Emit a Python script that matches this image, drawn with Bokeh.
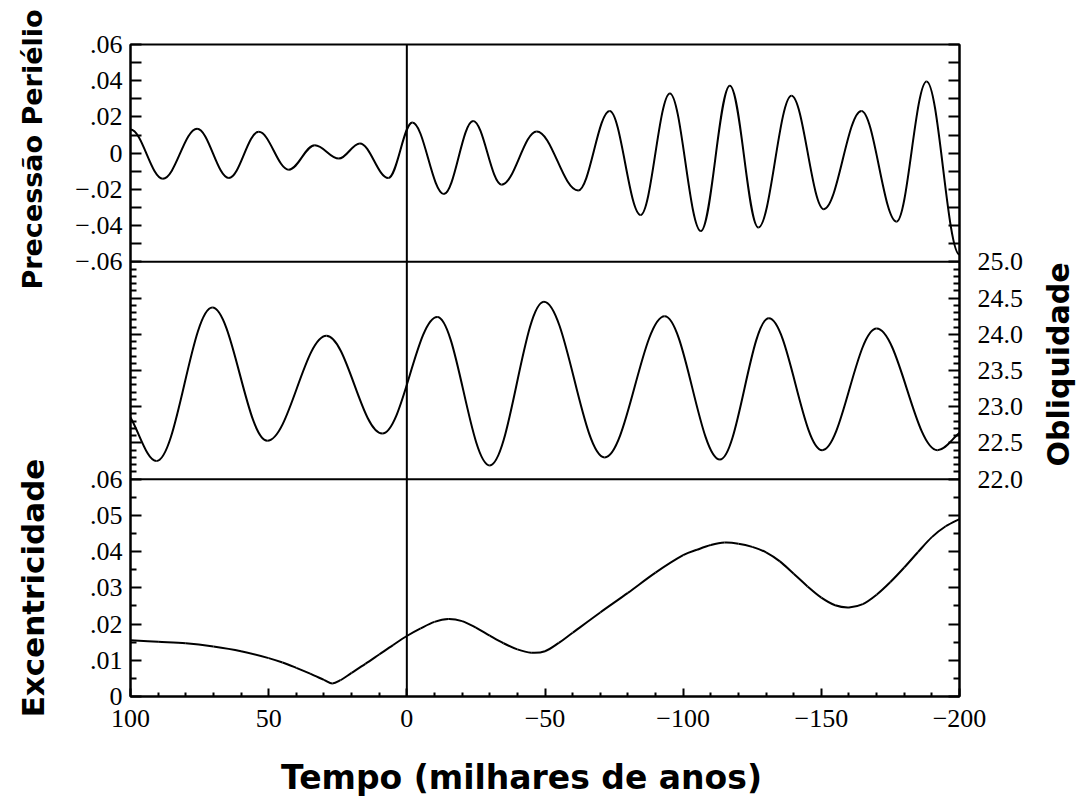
import math
from bokeh.plotting import figure
from bokeh.layouts import row, column
from bokeh.models import Range1d, LinearAxis, FixedTicker, CustomJSTickFormatter, Span
from bokeh.core.properties import value
from bokeh.embed import file_html
from bokeh.resources import INLINE

# ---------------- data ----------------
# time in thousands of years; precession: successive peaks/troughs (ends at the plot edges)
prec_x = [100, 88.3, 75.9, 64.4, 53.6, 42.7, 33.3, 24.6, 17.0, 6.7, -2.0, -13.4, -24.0, -34.3,
          -47.0, -62.0, -73.4, -84.6, -95.2, -106.4, -116.9, -127.2, -139.2, -150.9, -164.5,
          -177.2, -188.1, -200]
prec_y = [0.0130, -0.0141, 0.0135, -0.0137, 0.0118, -0.0091, 0.0044, -0.0030, 0.0054, -0.0137,
          0.0169, -0.0226, 0.0178, -0.0174, 0.0120, -0.0206, 0.0233, -0.0341, 0.0330, -0.0430,
          0.0372, -0.0411, 0.0317, -0.0309, 0.0233, -0.0378, 0.0396, -0.0560]

# obliquity (degrees): value at the left edge, peaks/troughs, value at the right edge
obl_x = [100, 90.6, 70.4, 50.5, 29.1, 8.9, -11.0, -30.0, -49.6, -71.6, -93.3, -113.3, -131.0,
         -150.3, -170.0, -192.0, -200]
obl_y = [22.85, 22.25, 24.37, 22.53, 23.98, 22.63, 24.24, 22.19, 24.45, 22.30, 24.25, 22.27,
         24.22, 22.40, 24.08, 22.40, 22.64]

# eccentricity
exc_x = [100, 90, 80, 70, 60, 50, 45, 40, 35, 30, 27, 24, 20, 15, 10, 5, 0, -5, -10, -15, -20, -25,
         -30, -35, -40, -45, -50, -55, -60, -70, -80, -90, -100, -105, -110, -115, -120, -125, -130,
         -135, -140, -145, -150, -155, -160, -165, -170, -175, -180, -185, -190, -195, -200]
exc_y = [0.0155, 0.0151, 0.0147, 0.0138, 0.0125, 0.0106, 0.0094, 0.0079, 0.0063, 0.0046, 0.0036,
         0.0045, 0.0065, 0.0090, 0.0116, 0.0142, 0.0167, 0.0188, 0.0206, 0.0214, 0.0208, 0.0190,
         0.0168, 0.0147, 0.0130, 0.0121, 0.0125, 0.0148, 0.0176, 0.0232, 0.0286, 0.0342, 0.0390,
         0.0405, 0.0418, 0.0425, 0.0422, 0.0413, 0.0398, 0.0373, 0.0339, 0.0304, 0.0273, 0.0252,
         0.0246, 0.0255, 0.0281, 0.0316, 0.0356, 0.0399, 0.0440, 0.0470, 0.0490]

# axis ticks and labels
x_ticks = [100, 50, 0, -50, -100, -150, -200]
x_labels = ["100", "50", "0", "\u221250", "\u2212100", "\u2212150", "\u2212200"]
x_minor = [90, 80, 70, 60, 40, 30, 20, 10, -10, -20, -30, -40, -60, -70, -80, -90, -110, -120,
           -130, -140, -160, -170, -180, -190]

prec_ticks = [-0.06, -0.05, -0.04, -0.03, -0.02, -0.01, 0.0, 0.01, 0.02, 0.03, 0.04, 0.05, 0.06]
prec_labels = ["\u2212.06", "", "\u2212.04", "", "\u2212.02", "", "0", "", ".02", "", ".04", "", ".06"]

obl_ticks = [22.0, 22.5, 23.0, 23.5, 24.0, 24.5, 25.0]
obl_labels = ["22.0", "22.5", "23.0", "23.5", "24.0", "24.5", "25.0"]
obl_minor = [22.1, 22.2, 22.3, 22.4, 22.6, 22.7, 22.8, 22.9, 23.1, 23.2, 23.3, 23.4, 23.6, 23.7,
             23.8, 23.9, 24.1, 24.2, 24.3, 24.4, 24.6, 24.7, 24.8, 24.9]

exc_ticks = [0.0, 0.01, 0.02, 0.03, 0.04, 0.05, 0.06]
exc_labels = ["0", ".01", ".02", ".03", ".04", ".05", ".06"]
exc_minor = [0.005, 0.015, 0.025, 0.035, 0.045, 0.055]

PREC_LIM = (-0.06, 0.06)
OBL_LIM = (22.0, 25.0)
EXC_LIM = (0.0, 0.06)

TITLE_PREC = "Precess\u00e3o Peri\u00e9lio"
TITLE_OBL = "Obliquidade"
TITLE_EXC = "Excentricidade"
TITLE_X = "Tempo (milhares de anos)"

# ---------------- main figure ----------------
FRAME_W, FRAME_H = 829, 652
BL, BR, BT, BB = 66, 70, 44, 45
MAIN_W = BL + FRAME_W + BR
MAIN_H = BT + FRAME_H + BB

p = figure(width=MAIN_W, height=MAIN_H, x_range=Range1d(100, -200), y_range=Range1d(0, 3),
           output_backend="svg", toolbar_location=None, frame_align=False,
           min_border_left=BL, min_border_right=BR, min_border_top=BT, min_border_bottom=BB)
p.background_fill_color = "white"
p.border_fill_color = "white"
p.outline_line_color = "black"
p.outline_line_width = 2
p.grid.visible = False


def stacked_range(lim, slot):
    lo, hi = lim
    span = hi - lo
    return Range1d(lo - slot * span, hi + (2 - slot) * span)


p.extra_y_ranges = {
    "prec": stacked_range(PREC_LIM, 2),
    "obl": stacked_range(OBL_LIM, 1),
    "exc": stacked_range(EXC_LIM, 0),
}

for loc in (1, 2):
    p.add_layout(Span(location=loc, dimension="width", line_color="black", line_width=2))
p.add_layout(Span(location=0, dimension="height", line_color="black", line_width=2))

LW = 2
K = 1 - 2 / math.pi  # cubic handle length giving a half-cosine shape between extrema


def halfcos_segments(xs, ys, free_start=False, free_end=False):
    n = len(xs) - 1
    seg = dict(x0=[], y0=[], x1=[], y1=[], cx0=[], cy0=[], cx1=[], cy1=[])
    for i in range(n):
        xa, ya, xb, yb = xs[i], ys[i], xs[i + 1], ys[i + 1]
        dx = xb - xa
        c0 = (xa + K * dx, ya)
        c1 = (xb - K * dx, yb)
        if free_start and i == 0:
            c0 = (xa + dx / 3, ya + (yb - ya) / 3)
        if free_end and i == n - 1:
            c1 = (xb - dx / 3, yb - (yb - ya) / 3)
        for k, v in (("x0", xa), ("y0", ya), ("x1", xb), ("y1", yb),
                     ("cx0", c0[0]), ("cy0", c0[1]), ("cx1", c1[0]), ("cy1", c1[1])):
            seg[k].append(v)
    return seg


def catmull_segments(xs, ys):
    n = len(xs)
    seg = dict(x0=[], y0=[], x1=[], y1=[], cx0=[], cy0=[], cx1=[], cy1=[])
    for i in range(n - 1):
        p0 = (xs[max(i - 1, 0)], ys[max(i - 1, 0)])
        p1 = (xs[i], ys[i])
        p2 = (xs[i + 1], ys[i + 1])
        p3 = (xs[min(i + 2, n - 1)], ys[min(i + 2, n - 1)])
        seg["x0"].append(p1[0]); seg["y0"].append(p1[1])
        seg["x1"].append(p2[0]); seg["y1"].append(p2[1])
        seg["cx0"].append(p1[0] + (p2[0] - p0[0]) / 6); seg["cy0"].append(p1[1] + (p2[1] - p0[1]) / 6)
        seg["cx1"].append(p2[0] - (p3[0] - p1[0]) / 6); seg["cy1"].append(p2[1] - (p3[1] - p1[1]) / 6)
    return seg


for segs, rname in ((halfcos_segments(prec_x, prec_y), "prec"),
                    (halfcos_segments(obl_x, obl_y, True, True), "obl"),
                    (catmull_segments(exc_x, exc_y), "exc")):
    p.bezier(segs["x0"], segs["y0"], segs["x1"], segs["y1"],
             segs["cx0"], segs["cy0"], segs["cx1"], segs["cy1"],
             y_range_name=rname, line_color="black", line_width=LW)


# ---------------- axes ----------------
def pos(v, lim, slot):
    return round(slot + (v - lim[0]) / (lim[1] - lim[0]), 9)


def build(groups):
    d = {}
    for vals, labs, lim, slot in groups:
        for v, l in zip(vals, labs):
            k = pos(v, lim, slot)
            if k not in d:
                d[k] = l
    ks = sorted(d)
    return ks, [d[k] for k in ks]


FMT_CODE = """
let best = ''; let bd = 1e9;
for (let i = 0; i < pos.length; i++) {
  const d = Math.abs(pos[i] - tick);
  if (d < bd) { bd = d; best = labs[i]; }
}
return bd < 1e-6 ? best : '';
"""


def style(ax, standoff, tin, tmin):
    ax.axis_line_color = "black"
    ax.axis_line_width = 2
    ax.major_tick_line_color = "black"
    ax.minor_tick_line_color = "black"
    ax.major_tick_line_width = 2
    ax.minor_tick_line_width = 2
    ax.major_tick_in = tin
    ax.major_tick_out = 0
    ax.minor_tick_in = tmin
    ax.minor_tick_out = 0
    ax.major_label_text_font = "Liberation Serif"
    ax.major_label_text_font_size = "26px"
    ax.major_label_text_color = "black"
    ax.major_label_standoff = standoff


blank_obl = [""] * len(obl_ticks)
blank_prec = [""] * len(prec_ticks)
blank_exc = [""] * len(exc_ticks)
yminor = sorted({pos(v, OBL_LIM, 1) for v in obl_minor} | {pos(v, EXC_LIM, 0) for v in exc_minor})

lpos, llab = build([(prec_ticks, prec_labels, PREC_LIM, 2), (exc_ticks, exc_labels, EXC_LIM, 0),
                    (obl_ticks, blank_obl, OBL_LIM, 1)])
yl = p.yaxis[0]
yl.ticker = FixedTicker(ticks=lpos, minor_ticks=yminor)
yl.formatter = CustomJSTickFormatter(args=dict(pos=lpos, labs=llab), code=FMT_CODE)
style(yl, 8, 11, 6)

rpos, rlab = build([(obl_ticks, obl_labels, OBL_LIM, 1), (prec_ticks, blank_prec, PREC_LIM, 2),
                    (exc_ticks, blank_exc, EXC_LIM, 0)])
yr = LinearAxis(ticker=FixedTicker(ticks=rpos, minor_ticks=yminor),
                formatter=CustomJSTickFormatter(args=dict(pos=rpos, labs=rlab), code=FMT_CODE))
style(yr, 18, 11, 6)
p.add_layout(yr, "right")

xa = p.xaxis[0]
xa.ticker = FixedTicker(ticks=x_ticks, minor_ticks=x_minor)
xa.formatter = CustomJSTickFormatter(args=dict(pos=[float(v) for v in x_ticks], labs=x_labels),
                                     code=FMT_CODE)
style(xa, 13, 8, 4)

# ---------------- title strips (text glyphs) ----------------
TF = value("DejaVu Sans")


def strip(w, h):
    f = figure(width=w, height=h, x_range=Range1d(0, w), y_range=Range1d(0, h),
               output_backend="svg", toolbar_location=None, frame_align=False,
               x_axis_location=None, y_axis_location=None,
               min_border=0, min_border_left=0, min_border_right=0,
               min_border_top=0, min_border_bottom=0)
    f.grid.visible = False
    f.outline_line_color = None
    f.background_fill_color = "white"
    f.border_fill_color = "white"
    return f


LEFT_W = 64
RIGHT_W = 1085 - LEFT_W - MAIN_W
BOTTOM_H = 62

left = strip(LEFT_W, MAIN_H)
left.text(x=[32], y=[MAIN_H - 149], text=[TITLE_PREC],
          angle=math.pi / 2, text_font=TF, text_font_style="bold",
          text_font_size="27px", text_align="center", text_baseline="middle", text_color="black")
left.text(x=[32], y=[MAIN_H - 587.5], text=[TITLE_EXC],
          angle=math.pi / 2, text_font=TF, text_font_style="bold",
          text_font_size="31px", text_align="center", text_baseline="middle", text_color="black")

right = strip(RIGHT_W, MAIN_H)
right.text(x=[1058 - LEFT_W - MAIN_W], y=[MAIN_H - 364], text=[TITLE_OBL],
           angle=math.pi / 2, text_font=TF, text_font_style="bold",
           text_font_size="30px", text_align="center", text_baseline="middle", text_color="black")

bottom = strip(LEFT_W + MAIN_W + RIGHT_W, BOTTOM_H)
bottom.text(x=[521], y=[BOTTOM_H - (777 - MAIN_H)], text=[TITLE_X],
            text_font=TF, text_font_style="bold",
            text_font_size="33px", text_align="center", text_baseline="middle", text_color="black")

layout = column(row(left, p, right, spacing=0), bottom, spacing=0)

open("out.html", "w").write(file_html(layout, INLINE))
